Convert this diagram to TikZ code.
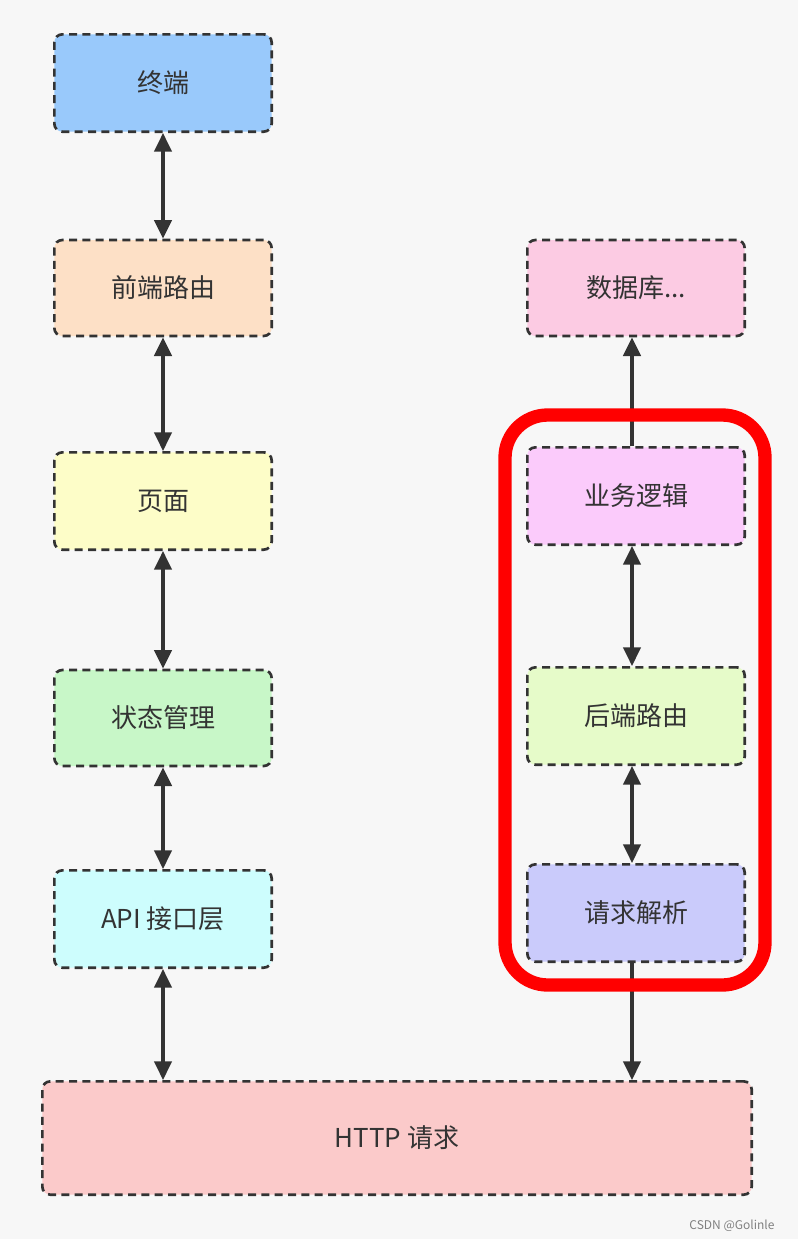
\documentclass[tikz,border=0pt]{standalone}
\usepackage{fontspec}
\setmainfont{Noto Sans CJK SC}
\usetikzlibrary{arrows.meta}
\definecolor{bg}{HTML}{F7F7F7}
\definecolor{c1}{HTML}{99C9FB}
\definecolor{c2}{HTML}{FDE0C6}
\definecolor{c3}{HTML}{FDFDC8}
\definecolor{c4}{HTML}{C8F7C8}
\definecolor{c5}{HTML}{CDFDFD}
\definecolor{c6}{HTML}{FBCACA}
\definecolor{c7}{HTML}{FCCBE3}
\definecolor{c8}{HTML}{FBCBFB}
\definecolor{c9}{HTML}{E6FBC9}
\definecolor{c10}{HTML}{CACBFB}
\definecolor{ln}{HTML}{333333}
\begin{document}
\begin{tikzpicture}[x=0.75pt,y=-0.75pt,
 box/.style={draw=ln,line width=2pt,dash pattern=on 6pt off 4pt,rounded corners=6pt,text=ln,font=\fontsize{19.5}{22}\selectfont},
 dbl/.style={ln,line width=2.5pt,{Triangle[length=14pt,width=13pt]}-{Triangle[length=14pt,width=13pt]}},
 sgl/.style={ln,line width=2.5pt,-{Triangle[length=14pt,width=13pt]}}]
\fill[bg] (0,0) rectangle (798,1239);
\useasboundingbox (0,0) rectangle (798,1239);
\node[box,fill=c1,minimum width=163pt,minimum height=73pt] (a) at (163,83) {终端};
\node[box,fill=c2,minimum width=163pt,minimum height=72pt] (b) at (163,288) {前端路由};
\node[box,fill=c3,minimum width=163pt,minimum height=73pt] (c) at (163,501) {页面};
\node[box,fill=c4,minimum width=163pt,minimum height=72pt] (d) at (163,718) {状态管理};
\node[box,fill=c5,minimum width=163pt,minimum height=73pt] (e) at (163,919) {API 接口层};
\node[box,fill=c6,minimum width=532pt,minimum height=85pt] (h) at (397,1138) {HTTP 请求};
\node[box,fill=c7,minimum width=163pt,minimum height=72pt] (f) at (636,288) {数据库...};
\node[box,fill=c8,minimum width=163pt,minimum height=73pt] (g) at (636,496) {业务逻辑};
\node[box,fill=c9,minimum width=163pt,minimum height=73pt] (i) at (636,716) {后端路由};
\node[box,fill=c10,minimum width=163pt,minimum height=73pt] (j) at (636,913) {请求解析};
\draw[dbl] (a) -- (b);
\draw[dbl] (b) -- (c);
\draw[dbl] (c) -- (d);
\draw[dbl] (d) -- (e);
\draw[dbl] (e.south) -- (e.south |- h.north);
\draw[sgl] ([xshift=-3pt]g.north) -- ([xshift=-3pt]f.south);
\draw[dbl] ([xshift=-3pt]g.south) -- ([xshift=-3pt]i.north);
\draw[dbl] ([xshift=-3pt]i.south) -- ([xshift=-3pt]j.north);
\coordinate (hj) at ([xshift=-3pt]j.south |- h.north);
\draw[sgl] ([xshift=-3pt]j.south) -- (hj);
\draw[red,line width=10pt,rounded corners=32pt] (505,415) rectangle (765,985);
\node[text=gray,font=\fontsize{9}{10}\selectfont] (wm) at (732,1226) {CSDN @Golinle};
\end{tikzpicture}
\end{document}
